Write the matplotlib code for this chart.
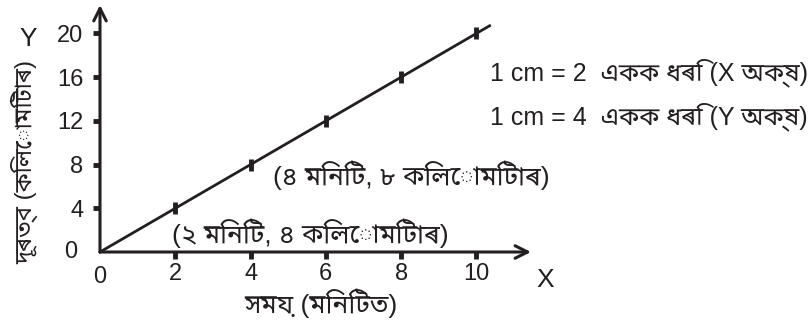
import numpy as np
import matplotlib
matplotlib.use("Agg")
from matplotlib import pyplot as plt

# data
time_min = [2, 4, 6, 8, 10]
dist_km = [4, 8, 12, 16, 20]
x_ticks = [0, 2, 4, 6, 8, 10]
y_ticks = [0, 4, 8, 12, 16, 20]
line_end = 10.35

ink = "#231f20"
fam = ["Liberation Sans", "Noto Sans Bengali", "DejaVu Sans"]
plt.rcParams['font.family'] = fam

fig = plt.figure(figsize=(8.12, 3.33), dpi=100)
ax = fig.add_axes([100 / 812, 81 / 333, 431 / 812, 247 / 333])
ax.set_xlim(0, 11.45)
ax.set_ylim(0, 22.6)
for s in ax.spines.values():
    s.set_visible(False)

# axes with open arrow heads
arw = dict(arrowstyle="->,head_length=0.9,head_width=0.45", color=ink, lw=2.2,
           shrinkA=0, shrinkB=0)
ax.annotate("", xy=(11.45, 0), xytext=(0, 0), arrowprops=arw, annotation_clip=False)
ax.annotate("", xy=(0, 22.6), xytext=(0, 0), arrowprops=arw, annotation_clip=False)

ax.set_xticks(x_ticks[1:])
ax.set_yticks(y_ticks[1:])
ax.tick_params(axis="x", direction="out", length=5, width=3.5, color=ink,
               labelsize=17, labelcolor=ink, pad=3)
ax.tick_params(axis="y", direction="out", length=5, width=3.5, color=ink,
               labelsize=17, labelcolor=ink, pad=7)
ax.text(0, -1.3, "0", ha="center", va="top", fontsize=17, color=ink)
ax.text(-0.6, 0, "0", ha="right", va="center", fontsize=17, color=ink)

# distance-time line
speed = dist_km[-1] / time_min[-1]
xs = np.array([0, line_end])
ax.plot(xs, speed * xs, color=ink, lw=2, clip_on=False)
ax.plot(time_min, dist_km, ls="none", marker="|", ms=8, mew=3.5, color=ink,
        clip_on=False)

fig.text(545 / 812, 1 - 280 / 333, "X", ha="center", va="center", fontsize=19, color=ink)
fig.text(28 / 812, 1 - 39 / 333, "Y", ha="center", va="center", fontsize=19, color=ink)

fig.text(321 / 812, 1 - 303 / 333, "সময় (মিনিটত)", ha="center", va="center",
         fontsize=19, color=ink)
fig.text(24 / 812, 1 - 162 / 333, "দূৰত্ব (কিলোমিটাৰ)", ha="center", va="center",
         rotation=90, fontsize=17, color=ink)

ax.text(4.6, 7.0, "(৪ মিনিট, ৮ কিলোমিটাৰ)", ha="left", va="center",
        fontsize=19, color=ink)
ax.text(1.9, 1.7, "(২ মিনিট, ৪ কিলোমিটাৰ)", ha="left", va="center",
        fontsize=19, color=ink)
fig.text(490 / 812, 1 - 73 / 333, "1 cm = 2  একক ধৰি (X অক্ষ)", ha="left",
         va="center", fontsize=18, color=ink)
fig.text(490 / 812, 1 - 117 / 333, "1 cm = 4  একক ধৰি (Y অক্ষ)", ha="left",
         va="center", fontsize=18, color=ink)

fig.savefig("out.png", dpi=100)
